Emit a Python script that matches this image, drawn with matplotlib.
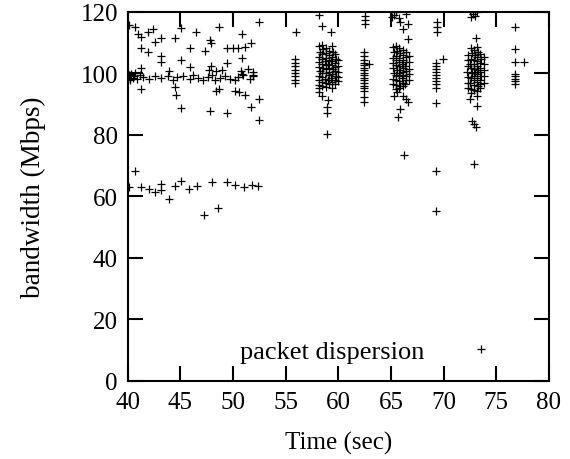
import matplotlib.pyplot as plt

plt.rcParams['font.family'] = ['Liberation Serif', 'DejaVu Serif']
plt.rcParams['font.size'] = 18

# left part (40-53 s), scattered points
left_t = [40.1, 40.7, 52.5, 45.1, 46.5, 48.7, 42.4, 41.9, 41.3, 41.0, 50.9, 47.8, 47.9,
          43.2, 44.5, 42.6, 45.9, 47.3, 49.4, 50.0, 50.5, 51.1, 51.7, 41.3, 41.9, 43.2,
          43.2, 45.1, 50.9, 49.4, 47.9, 45.9, 41.3, 51.4, 51.9, 50.9, 41.3, 44.5, 48.7,
          50.2, 51.1, 44.6, 52.5, 45.1, 47.8, 49.4, 51.7, 52.5, 48.4, 50.6]
left_bw = [115.8, 115.0, 116.8, 114.7, 113.6, 115.0, 114.4, 113.6, 111.8, 112.8, 112.8, 110.7, 109.8,
           111.4, 111.4, 110.3, 108.2, 107.4, 108.2, 108.2, 108.2, 108.5, 109.8, 108.2, 107.1, 105.5,
           103.8, 104.4, 104.9, 103.3, 102.5, 102.0, 101.7, 101.5, 100.4, 99.8, 95.0, 95.5, 95.0,
           94.4, 93.0, 93.0, 91.7, 88.7, 87.9, 87.1, 89.0, 84.9, 94.4, 94.1]

# the ~100 Mbps row
row_t = [40.0, 40.1, 40.24, 40.56, 40.87, 41.19, 41.5, 41.98, 42.6, 43.2, 43.87, 44.34, 44.66,
         45.29, 45.92, 46.24, 46.71, 47.18, 47.66, 47.97, 48.29, 48.76, 49.24, 49.71, 50.18,
         50.5, 50.97, 51.6, 51.92, 40.0, 40.1, 40.2, 40.3, 40.5, 40.7, 43.9, 47.7, 48.4, 49.0,
         50.8, 51.9]
row_bw = [98.6, 99.5, 98.0, 99.2, 98.3, 99.6, 98.8, 98.1, 99.0, 98.4, 99.3, 97.9, 98.7,
          99.1, 98.2, 99.6, 98.5, 97.8, 98.9, 99.4, 98.0, 98.6, 99.2, 98.3, 97.7,
          98.9, 99.5, 98.2, 99.0, 100.3, 99.2, 98.1, 99.8, 98.6, 100.1, 100.8, 101.0, 100.7, 101.2,
          100.9, 99.5]

# the ~62 Mbps row
low_t = [40.7, 40.1, 41.3, 42.0, 42.6, 43.2, 43.2, 43.9, 44.5, 45.1, 45.8, 46.6, 47.2,
         48.0, 48.6, 49.4, 50.2, 51.0, 51.8, 52.4]
low_bw = [68.4, 63.0, 63.0, 62.4, 61.4, 61.9, 64.1, 59.2, 63.3, 65.1, 62.4, 63.5, 53.8,
          64.6, 56.2, 64.6, 63.7, 63.0, 63.7, 63.3]

# bursts at 56 and 58-60 s
b58_t = [55.9, 55.9, 55.9, 55.9, 55.9, 55.9, 55.9, 55.9, 56.0,
         58.2, 58.5, 59.3, 58.2, 58.5, 59.0, 58.9, 58.9, 58.9,
         58.2, 58.25, 58.2, 58.15, 58.2, 58.25, 58.2, 58.15, 58.2, 58.2,
         58.5, 58.55, 58.5, 58.45, 58.5, 58.55, 58.5, 58.45, 58.5, 58.5,
         58.8, 58.85, 58.8, 58.75, 58.8, 58.85, 58.8, 58.75, 58.8, 58.8,
         59.1, 59.15, 59.1, 59.05, 59.1, 59.15, 59.1, 59.05, 59.1,
         59.4, 59.45, 59.4, 59.35, 59.4, 59.45, 59.4, 59.35, 59.4, 59.4,
         59.7, 59.75, 59.7, 59.65, 59.7, 59.75, 59.7, 59.65,
         60.0, 60.0, 60.0, 60.0, 60.0]
b58_bw = [104.6, 103.4, 102.3, 101.2, 100.1, 99.0, 97.9, 96.8, 113.4,
          119.1, 115.5, 113.4, 93.9, 92.8, 91.2, 89.0, 87.1, 80.3,
          108.8, 106.9, 105.2, 103.6, 102.1, 100.7, 99.2, 97.8, 96.3, 95.1,
          109.3, 107.8, 106.2, 104.7, 103.1, 101.6, 100.2, 98.7, 97.2, 95.8,
          108.1, 106.6, 105.0, 103.9, 102.6, 101.3, 100.0, 98.3, 96.9, 95.6,
          107.4, 105.9, 104.3, 103.0, 101.9, 100.5, 99.4, 97.9, 96.5,
          109.0, 107.1, 105.4, 104.1, 102.8, 101.4, 99.9, 98.6, 97.1, 95.4,
          106.3, 104.8, 103.4, 102.0, 100.8, 99.3, 98.0, 96.6,
          104.2, 102.4, 100.6, 98.9, 97.4]

# burst at 62 s
b62_t = [62.4] * 17 + [62.5, 62.5, 62.5, 62.9]
b62_bw = [107.0, 105.6, 104.4, 103.5, 102.6, 101.8, 101.0, 100.2, 99.4, 98.6, 97.8, 96.9,
          96.0, 95.1, 94.2, 92.4, 90.7, 118.6, 117.4, 116.2, 103.1]

# burst at 65-67 s
b66_t = [65.1, 65.5, 65.9, 66.4, 66.6, 66.1, 66.6, 65.3, 65.8,
         65.3, 66.1, 66.6, 65.9, 65.7, 66.2, 66.4, 65.6,
         65.2, 65.25, 65.2, 65.15, 65.2, 65.25, 65.2, 65.15,
         65.5, 65.55, 65.5, 65.45, 65.5, 65.55, 65.5, 65.45, 65.5, 65.5,
         65.8, 65.85, 65.8, 65.75, 65.8, 65.85, 65.8, 65.75, 65.8, 65.85, 65.8,
         66.1, 66.15, 66.1, 66.05, 66.1, 66.15, 66.1, 66.05, 66.1, 66.1,
         66.4, 66.45, 66.4, 66.35, 66.4, 66.45, 66.4, 66.35,
         66.7, 66.7, 66.7, 66.7, 66.7]
b66_bw = [118.3, 119.9, 116.6, 119.3, 116.1, 114.5, 111.2, 119.0, 118.0,
          92.8, 92.5, 90.6, 88.5, 85.8, 73.3, 91.5, 94.0,
          108.5, 106.8, 105.1, 103.4, 101.7, 100.0, 98.3, 96.6,
          109.0, 107.4, 105.8, 104.2, 102.6, 101.0, 99.4, 97.8, 96.2, 94.8,
          108.2, 106.5, 104.9, 103.7, 102.3, 101.2, 100.1, 99.0, 97.5, 96.0, 95.2,
          107.7, 106.0, 104.5, 103.1, 101.8, 100.6, 99.6, 98.4, 97.0, 95.8,
          106.9, 105.3, 103.8, 102.3, 100.9, 99.2, 97.7, 96.4,
          105.6, 103.6, 101.5, 99.7, 98.0]

# burst at 69 s
b69_t = [69.4, 69.4, 69.4, 69.9] + [69.3] * 9 + [69.3, 69.3, 69.3]
b69_bw = [116.8, 115.2, 113.6, 104.7, 103.4, 102.3, 101.3, 100.3, 99.4, 98.4, 97.4, 96.4,
          95.4, 90.3, 68.4, 55.2]

# burst at 72-74 s
b73_t = [72.5, 72.8, 73.0, 73.2, 72.6, 73.1,
         73.2, 72.5, 72.7, 72.9, 73.1, 72.9,
         72.3, 72.35, 72.3, 72.25, 72.3, 72.35, 72.3,
         72.6, 72.65, 72.6, 72.55, 72.6, 72.65, 72.6, 72.55, 72.6, 72.6,
         72.9, 72.95, 72.9, 72.85, 72.9, 72.95, 72.9, 72.85, 72.9, 72.9,
         73.2, 73.25, 73.2, 73.15, 73.2, 73.25, 73.2, 73.15, 73.2, 73.25, 73.2, 73.2,
         73.5, 73.55, 73.5, 73.45, 73.5, 73.55, 73.5, 73.45, 73.5,
         73.8, 73.8, 73.8, 73.8, 73.8]
b73_bw = [120.2, 119.4, 118.6, 119.8, 118.4, 111.4,
          89.5, 91.7, 84.6, 83.5, 82.5, 70.6,
          106.0, 104.2, 102.4, 100.6, 98.8, 97.0, 95.3,
          108.3, 106.5, 104.8, 103.2, 101.6, 100.0, 98.4, 96.8, 95.0, 93.6,
          107.6, 105.9, 104.3, 102.9, 101.5, 100.3, 99.1, 97.7, 96.2, 94.5,
          108.6, 107.0, 105.4, 103.9, 102.5, 101.2, 99.8, 98.5, 97.2, 95.8, 94.2, 92.6,
          106.4, 104.7, 103.3, 101.9, 100.5, 99.2, 97.9, 96.5, 95.2,
          105.2, 103.1, 101.0, 99.0, 97.0]

# burst at 77 s
b77_t = [76.8, 76.8, 76.8, 77.6, 76.8, 76.8, 76.8, 76.8, 76.8]
b77_bw = [115.0, 108.0, 103.6, 103.6, 99.8, 99.0, 98.2, 97.4, 96.6]

times = left_t + row_t + low_t + b58_t + b62_t + b66_t + b69_t + b73_t + b77_t
bws = left_bw + row_bw + low_bw + b58_bw + b62_bw + b66_bw + b69_bw + b73_bw + b77_bw

fig = plt.figure(figsize=(5.7, 4.6), dpi=100)
ax = fig.add_axes([0.224, 0.170, 0.739, 0.802])
ax.plot(times, bws, '+', color='black', ms=6, mew=0.9, label='packet dispersion')

ax.set_xlim(40, 80)
ax.set_ylim(0, 120)
ax.set_xticks(range(40, 81, 5))
ax.set_yticks(range(0, 121, 20))
ax.tick_params(direction='in', length=11, width=1.5, top=True, right=True, pad=7)
for s in ax.spines.values():
    s.set_linewidth(1.5)
ax.set_xlabel('Time (sec)', labelpad=13)
ax.set_ylabel('bandwidth (Mbps)', labelpad=25, fontsize=19.5)

ax.legend(loc='lower right', bbox_to_anchor=(0.901, 0.047), frameon=False,
          markerfirst=False, handlelength=2, handletextpad=1.15,
          borderpad=0, borderaxespad=0, fontsize=19)

fig.savefig('out.png')
